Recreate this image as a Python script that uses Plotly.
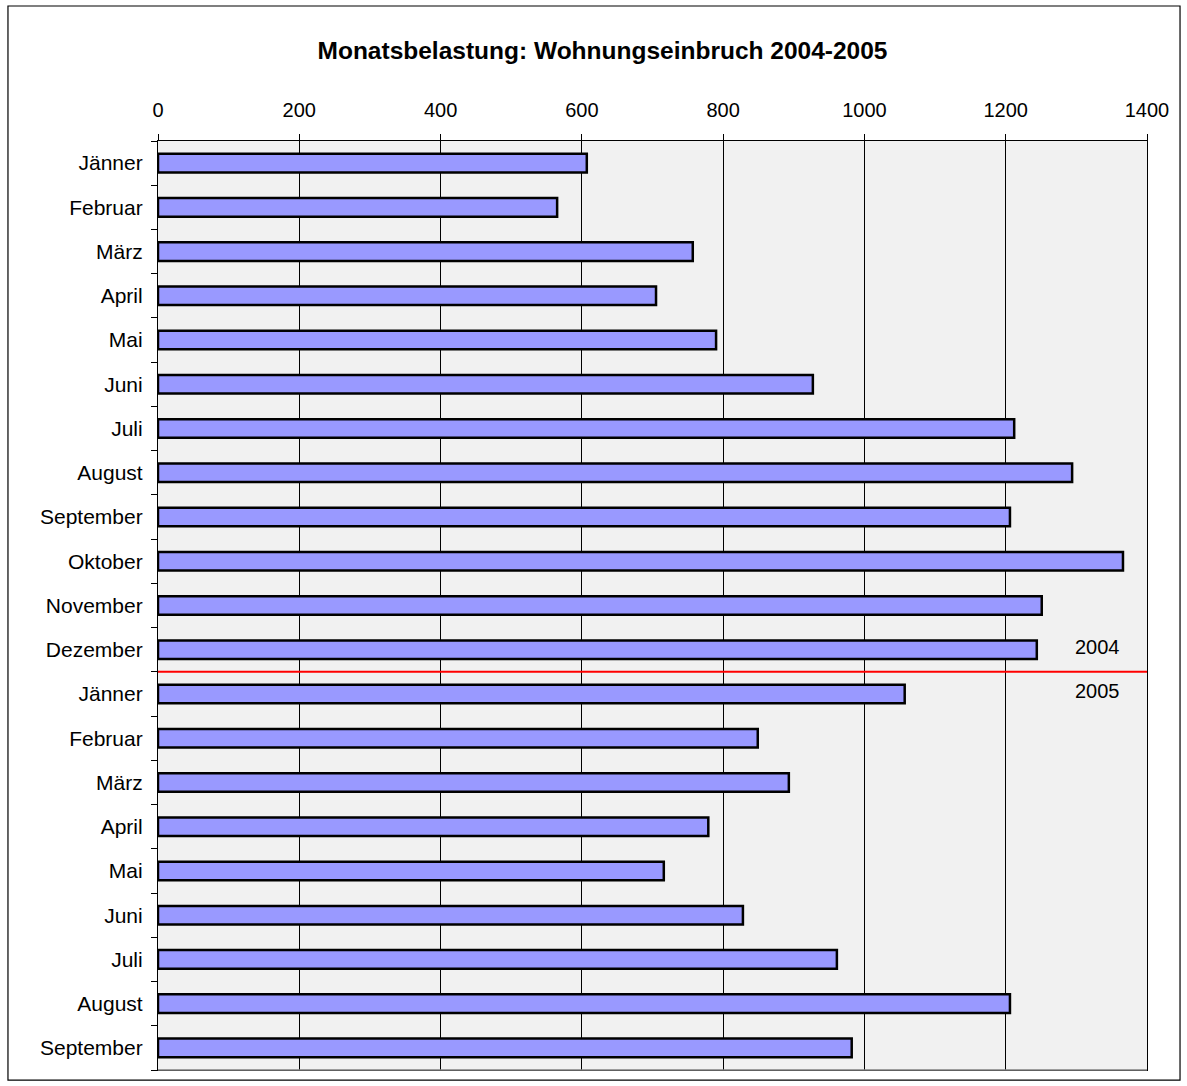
import plotly.graph_objects as go

months_2004 = ["Jänner", "Februar", "März", "April", "Mai", "Juni", "Juli",
               "August", "September", "Oktober", "November", "Dezember"]
values_2004 = [607, 565, 757, 705, 790, 927, 1212, 1294, 1206, 1366, 1251, 1244]
months_2005 = ["Jänner", "Februar", "März", "April", "Mai", "Juni", "Juli",
               "August", "September"]
values_2005 = [1057, 849, 893, 779, 716, 828, 961, 1206, 982]
year_labels = ["2004", "2005"]
x_ticks = [0, 200, 400, 600, 800, 1000, 1200, 1400]
title_text = "Monatsbelastung: Wohnungseinbruch 2004-2005"

labels = months_2004 + months_2005
values = values_2004 + values_2005
ypos = list(range(len(labels)))
n04 = len(months_2004)
sep = n04 - 0.5

FONT = "Liberation Sans, Arial, sans-serif"

fig = go.Figure()
fig.add_trace(go.Bar(
    x=values, y=ypos, orientation="h", width=0.42,
    marker=dict(color="#9999ff", line=dict(color="black", width=2.5)),
    hoverinfo="x",
))

fig.add_shape(type="line", xref="paper", yref="y", x0=0, x1=1, y0=sep, y1=sep,
              line=dict(color="#ff0000", width=2))
# bottom plot-area edge (gray)
fig.add_shape(type="line", xref="paper", yref="paper", x0=0, x1=1, y0=0, y1=0,
              line=dict(color="#808080", width=1.5))
# outer border
fig.add_shape(type="rect", xref="paper", yref="paper",
              x0=-0.1517, x1=1.0334, y0=-0.0108, y1=1.1453,
              line=dict(color="black", width=1.2), layer="below")

fig.add_annotation(x=1330, y=n04 - 1, text=year_labels[0], showarrow=False, yshift=3,
                   font=dict(size=20, color="black", family=FONT))
fig.add_annotation(x=1330, y=n04, text=year_labels[1], showarrow=False, yshift=3,
                   font=dict(size=20, color="black", family=FONT))

fig.update_layout(
    width=1187, height=1086,
    margin=dict(l=158, r=40, t=141, b=16),
    paper_bgcolor="white", plot_bgcolor="#f1f1f1",
    font=dict(family=FONT, size=20, color="black"),
    showlegend=False, bargap=0.58,
    title=dict(text="<b>" + title_text + "</b>", xref="container", yref="container",
               x=0.5076, y=0.954, xanchor="center", yanchor="middle",
               font=dict(size=24.5, family=FONT, color="black")),
    xaxis=dict(side="top", range=[0, 1400], tickvals=x_ticks,
               showgrid=True, gridcolor="black", gridwidth=1,
               showline=True, linecolor="black", linewidth=1.2, mirror=True,
               ticks="outside", ticklen=6, tickcolor="black",
               zeroline=False, tickfont=dict(size=20), ticklabelstandoff=9),
    yaxis=dict(range=[len(labels) - 0.5, -0.5], tickvals=ypos, ticktext=labels,
               showgrid=False, zeroline=False,
               showline=True, linecolor="black", linewidth=1.2, mirror=True,
               ticks="", tickfont=dict(size=21), ticklabelstandoff=10,
               minor=dict(tickvals=[i - 0.5 for i in range(len(labels) + 1)],
                          ticks="outside", ticklen=6, tickcolor="black",
                          showgrid=False)),
)

fig.write_html("out.html", config={"displayModeBar": False},
               post_script="document.body.style.margin='0px';document.body.style.overflow='hidden';")
